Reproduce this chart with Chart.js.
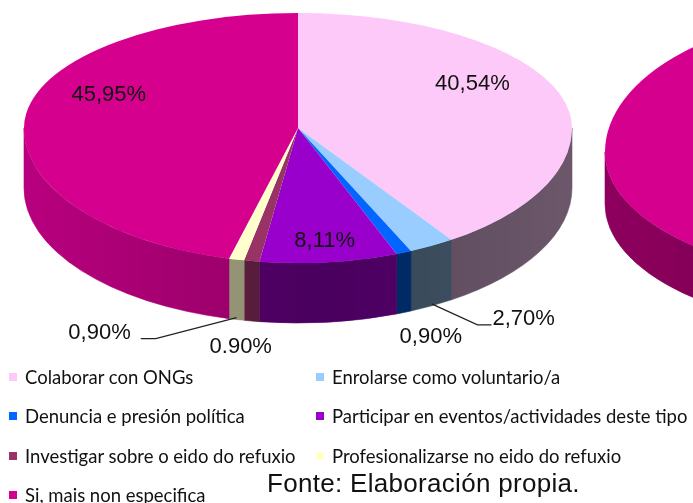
<!DOCTYPE html>
<html>
<head>
<meta charset="utf-8">
<script src="https://cdn.jsdelivr.net/npm/chart.js@4.4.1/dist/chart.umd.min.js"></script>
<style>
  html, body { margin: 0; padding: 0; background: #fff; }
  body { width: 693px; height: 503px; position: relative; overflow: hidden; }
  canvas { position: absolute; left: 0; top: 0; }
  .item { position: absolute; white-space: nowrap; color: #111; font-family: Lato, "Open Sans", sans-serif; line-height: 1; }
  .item i { position: absolute; width: 8px; height: 8px; left: -16px; top: 50%; margin-top: -4px; }
  #source { position: absolute; left: 267px; top: 470px; font: 26px "Liberation Sans", Arial, sans-serif; color: #111; letter-spacing: 0.3px; line-height: 1; white-space: nowrap; }
</style>
</head>
<body>
<canvas id="second" width="693" height="503"></canvas>
<canvas id="main" width="693" height="503"></canvas>
<div id="legend"></div>
<div id="source">Fonte: Elaboración propia.</div>
<script>
'use strict';

// data
const categories = [
  'Colaborar con ONGs',
  'Enrolarse como voluntario/a',
  'Denuncia e presión política',
  'Participar en eventos/actividades deste tipo',
  'Investigar sobre o eido do refuxio',
  'Profesionalizarse no eido do refuxio',
  'Si, mais non especifica'
];
const percentages = [40.54, 2.70, 0.90, 8.11, 0.90, 0.90, 45.95];
const valueLabels = ['40,54%', '2,70%', '0,90%', '8,11%', '0.90%', '0,90%', '45,95%'];
const secondValues = [100];

// colours
const topColors = ['#fdc9f9', '#99ccff', '#0066ff', '#9900cc', '#993366', '#ffffcc', '#d6008f'];
const sideColors = ['#705a6f', '#44596c', '#003278', '#5e0078', '#6a2248', '#b0ae8c', '#b8007e'];

// label placement: inside the top face or below the side wall
const labelInside = [true, false, false, true, false, false, true];
const labelShift = [[-9, -20], [92, 13], [27, 24], [5, 19], [-11, 26], [-137, 13], [1, -23]];
const hasLeader = [false, true, false, false, false, true, false];

function wallPath(ctx, o, t0, t1) {
  ctx.beginPath();
  ctx.ellipse(o.cx, o.apexY, o.rx, o.ryF, 0, t0, t1);
  ctx.ellipse(o.cx, o.apexY + o.depth, o.rx, o.ryF, 0, t1, t0, true);
  ctx.closePath();
}

// fake 3d pie: walls drawn here, the top face is the chart's own arcs squashed
const pie3d = {
  id: 'pie3d',
  beforeDatasetsDraw(chart, args, o) {
    const ctx = chart.ctx;
    const meta = chart.getDatasetMeta(0);
    const ds = chart.data.datasets[0];
    const walls = [];

    meta.data.forEach((arc, i) => {
      const t0 = Math.max(arc.startAngle, 0);
      const t1 = Math.min(arc.endAngle, Math.PI);
      if (t1 <= t0) return;
      wallPath(ctx, o, t0, t1);
      ctx.fillStyle = ds.sideColor[i];
      ctx.strokeStyle = ds.sideColor[i];
      ctx.lineWidth = 0.6;
      ctx.fill();
      ctx.stroke();
      walls.push([t0, t1]);
    });

    // darker towards the middle of the wall
    const g = ctx.createLinearGradient(o.cx - o.rx, 0, o.cx + o.rx, 0);
    g.addColorStop(0, 'rgba(0,0,0,0)');
    g.addColorStop(0.55, 'rgba(0,0,0,0.22)');
    g.addColorStop(1, 'rgba(0,0,0,0.04)');
    ctx.fillStyle = g;
    walls.forEach(([t0, t1]) => {
      wallPath(ctx, o, t0, t1);
      ctx.fill();
    });

    // back half of the top face
    const arc = meta.data[0];
    ctx.save();
    ctx.beginPath();
    ctx.rect(0, 0, chart.width, o.apexY);
    ctx.clip();
    ctx.translate(o.cx, o.apexY);
    ctx.scale(o.rx / arc.outerRadius, o.ryB / arc.outerRadius);
    ctx.translate(-arc.x, -arc.y);
  },
  afterDatasetsDraw(chart, args, o) {
    const ctx = chart.ctx;
    const meta = chart.getDatasetMeta(0);
    const arc = meta.data[0];
    ctx.restore();

    // front half of the top face
    ctx.save();
    ctx.beginPath();
    ctx.rect(0, o.apexY, chart.width, chart.height - o.apexY);
    ctx.clip();
    ctx.translate(o.cx, o.apexY);
    ctx.scale(o.rx / arc.outerRadius, o.ryF / arc.outerRadius);
    ctx.translate(-arc.x, -arc.y);
    meta.controller.draw();
    ctx.restore();
  }
};

const pieLabels = {
  id: 'pieLabels',
  afterDraw(chart) {
    const ctx = chart.ctx;
    const o = chart.options.plugins.pie3d;
    const meta = chart.getDatasetMeta(0);
    ctx.save();
    ctx.font = '22px "Liberation Sans", Arial, sans-serif';
    ctx.fillStyle = '#111';
    ctx.textAlign = 'center';
    ctx.textBaseline = 'middle';
    ctx.strokeStyle = '#222';
    ctx.lineWidth = 1.2;
    meta.data.forEach((arc, i) => {
      const mid = (arc.startAngle + arc.endAngle) / 2;
      const c = Math.cos(mid), s = Math.sin(mid);
      let ax, ay;
      if (labelInside[i]) {
        ax = o.cx + o.rx * 0.7 * c;
        ay = o.apexY + (s < 0 ? o.ryB : o.ryF) * 0.7 * s;
      } else {
        ax = o.cx + o.rx * c;
        ay = o.apexY + o.ryF * s + o.depth;
      }
      const lx = ax + labelShift[i][0];
      const ly = ay + labelShift[i][1];
      ctx.fillText(valueLabels[i], lx, ly);

      if (hasLeader[i]) {
        const w = ctx.measureText(valueLabels[i]).width;
        let ex, bx;
        if (lx < ax) { ex = lx + w / 2 + 10; bx = ex + 15; }
        else { ex = lx - w / 2 - 1; bx = ex - 14; }
        ctx.beginPath();
        ctx.moveTo(ax, ay - 2);
        ctx.lineTo(bx, ly + 6);
        ctx.lineTo(ex, ly + 6);
        ctx.stroke();
      }
    });
    ctx.restore();
  }
};

const mainChart = new Chart(document.getElementById('main'), {
  type: 'pie',
  data: {
    labels: categories,
    datasets: [{
      data: percentages,
      backgroundColor: topColors,
      sideColor: sideColors,
      borderWidth: 0,
      clip: false
    }]
  },
  options: {
    responsive: false,
    animation: false,
    events: [],
    plugins: {
      legend: { display: false },
      tooltip: { enabled: false },
      pie3d: { cx: 298, apexY: 128, rx: 274, ryB: 115, ryF: 135, depth: 60 }
    }
  },
  plugins: [pie3d, pieLabels]
});

// the neighbouring chart, cut off at the right edge
const secondChart = new Chart(document.getElementById('second'), {
  type: 'pie',
  data: {
    labels: [categories[6]],
    datasets: [{
      data: secondValues,
      backgroundColor: ['#d6008f'],
      sideColor: ['#8e005e'],
      borderWidth: 0,
      clip: false
    }]
  },
  options: {
    responsive: false,
    animation: false,
    events: [],
    plugins: {
      legend: { display: false },
      tooltip: { enabled: false },
      pie3d: { cx: 867, apexY: 152, rx: 262, ryB: 140, ryF: 125, depth: 52 }
    }
  },
  plugins: [pie3d]
});

// legend, two columns
{
  const legend = document.getElementById('legend');
  const m = document.createElement('canvas').getContext('2d');
  m.font = '16px Lato';
  const size = 16 * 356 / m.measureText(categories[3]).width;
  const colX = [25, 332];
  const rowY = [377, 416, 456, 495];
  categories.forEach((name, i) => {
    const el = document.createElement('div');
    el.className = 'item';
    el.style.fontSize = size + 'px';
    el.style.left = colX[i % 2] + 'px';
    el.style.top = (rowY[Math.floor(i / 2)] - size / 2) + 'px';
    el.innerHTML = '<i style="background:' + topColors[i] + '"></i>';
    el.appendChild(document.createTextNode(name));
    legend.appendChild(el);
  });
}
</script>
</body>
</html>
